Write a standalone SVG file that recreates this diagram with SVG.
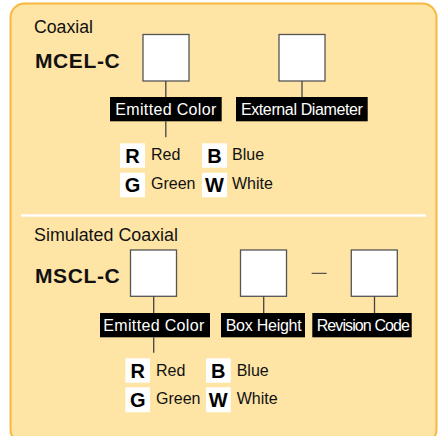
<svg xmlns="http://www.w3.org/2000/svg" width="438" height="436" viewBox="0 0 438 436">
<style>
.panel{fill:#FEE4A5;stroke:#F8B83E;stroke-width:2}
.head{font-family:"Liberation Sans",Arial,sans-serif;font-size:17.5px;fill:#111}
.code{font-family:"Liberation Sans",Arial,sans-serif;font-size:21px;font-weight:bold;fill:#111;letter-spacing:0.6px}
.slot{fill:#fff;stroke:#555;stroke-width:1.3}
.lbl rect{fill:#000}
.lbl text{font-family:"Liberation Sans",Arial,sans-serif;font-size:16px;fill:#fff;text-anchor:middle}
.key rect{fill:#fff}
.key text.k{font-family:"Liberation Sans",Arial,sans-serif;font-size:20px;font-weight:bold;fill:#000;text-anchor:middle}
.key text.n{font-family:"Liberation Sans",Arial,sans-serif;font-size:16px;fill:#111}
.conn line{stroke:#444;stroke-width:1.3}
</style>
<rect class="panel" x="10.5" y="3.5" width="426" height="440" rx="14"/>
<line x1="21" y1="215.5" x2="426" y2="215.5" stroke="#fff" stroke-width="2.4"/>

<g id="coaxial">
<text class="head" x="34" y="33" textLength="59" lengthAdjust="spacingAndGlyphs">Coaxial</text>
<text class="code" x="35" y="68">MCEL-C</text>
</g>
<g id="c-slot1"><rect class="slot" x="143" y="34.5" width="46" height="46.5"/></g>
<g id="c-slot2"><rect class="slot" x="279" y="34.5" width="46" height="46.5"/></g>
<g id="c-emitted" class="lbl"><rect x="110" y="97" width="111.7" height="24.3"/><text x="165.8" y="115.3" textLength="101">Emitted Color</text></g>
<g id="c-diameter" class="lbl"><rect x="236" y="97" width="131.7" height="24.3"/><text x="301.9" y="115.3" textLength="122">External Diameter</text></g>
<g id="c-legend" class="key">
<rect x="120" y="143.3" width="25" height="24.4"/><text class="k" x="132.5" y="162.5">R</text><text class="n" x="151" y="160">Red</text>
<rect x="202" y="143.3" width="25" height="24.4"/><text class="k" x="214.5" y="162.5">B</text><text class="n" x="232" y="160">Blue</text>
<rect x="120" y="172.7" width="25" height="24.6"/><text class="k" x="132.5" y="192">G</text><text class="n" x="151" y="189.3">Green</text>
<rect x="202" y="172.7" width="25" height="24.6"/><text class="k" x="214.5" y="192">W</text><text class="n" x="232" y="189.3">White</text>
</g>

<g id="simulated">
<text class="head" x="34" y="241" textLength="144" lengthAdjust="spacingAndGlyphs">Simulated Coaxial</text>
<text class="code" x="35" y="283.3">MSCL-C</text>
</g>
<g id="s-slot1"><rect class="slot" x="130.5" y="250" width="46" height="46.3"/></g>
<g id="s-slot2"><rect class="slot" x="240.5" y="250" width="46" height="46.3"/></g>
<g id="s-dash"><line x1="311.7" y1="273.3" x2="326.7" y2="273.3" stroke="#333" stroke-width="1"/></g>
<g id="s-slot3"><rect class="slot" x="351.3" y="250" width="46" height="46.3"/></g>
<g id="s-emitted" class="lbl"><rect x="100" y="313" width="110" height="24.3"/><text x="153.8" y="330.7" textLength="101">Emitted Color</text></g>
<g id="s-height" class="lbl"><rect x="221" y="313" width="84" height="24.3"/><text x="263.7" y="330.7" textLength="76">Box Height</text></g>
<g id="s-revision" class="lbl"><rect x="312.3" y="313" width="99.4" height="24.3"/><text x="363.3" y="330.7" textLength="93.3">Revision Code</text></g>
<g id="s-legend" class="key">
<rect x="125.3" y="358.3" width="24.7" height="24.4"/><text class="k" x="137.7" y="377.5">R</text><text class="n" x="156" y="376">Red</text>
<rect x="206" y="358.3" width="24.7" height="24.4"/><text class="k" x="218.3" y="377.5">B</text><text class="n" x="236.7" y="376">Blue</text>
<rect x="125.3" y="387.3" width="24.7" height="25"/><text class="k" x="137.7" y="406.6">G</text><text class="n" x="156" y="404.3">Green</text>
<rect x="206" y="387.3" width="24.7" height="25"/><text class="k" x="218.3" y="406.6">W</text><text class="n" x="236.7" y="404.3">White</text>
</g>

<g id="connectors" class="conn">
<line x1="165.8" y1="81" x2="165.8" y2="97"/>
<line x1="165.8" y1="121.3" x2="165.8" y2="137.3"/>
<line x1="302" y1="81" x2="302" y2="97"/>
<line x1="153.7" y1="296.3" x2="153.7" y2="313"/>
<line x1="153.7" y1="337.3" x2="153.7" y2="352.7"/>
<line x1="263.7" y1="296.3" x2="263.7" y2="313"/>
<line x1="374.5" y1="296.3" x2="374.5" y2="313"/>
</g>
</svg>
